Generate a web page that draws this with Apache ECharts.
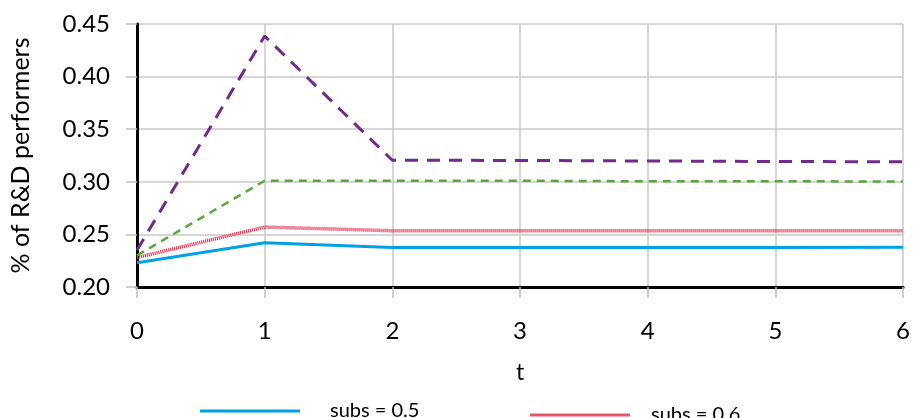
<!DOCTYPE html>
<html><head><meta charset="utf-8">
<script src="https://cdn.jsdelivr.net/npm/echarts@6/dist/echarts.min.js"></script>
<style>html,body{margin:0;padding:0;background:#fff}#c{width:913px;height:418px}</style>
</head><body><div id="c"></div>
<script>
const tValues = [0, 1, 2, 3, 4, 5, 6];
const subs05 = [0.223, 0.242, 0.2375, 0.2375, 0.2375, 0.2375, 0.2378];
const subs06 = [0.228, 0.257, 0.2535, 0.2535, 0.2535, 0.2535, 0.2535];
const subs07 = [0.230, 0.301, 0.301, 0.301, 0.3005, 0.3005, 0.3003];
const subs08 = [0.235, 0.4385, 0.3205, 0.3203, 0.3198, 0.3193, 0.319];
const seriesNames = ['subs = 0.5', 'subs = 0.6', 'subs = 0.7', 'subs = 0.8'];
const yTicks = ['0.20','0.25','0.30','0.35','0.40','0.45'];

const font = 'Lato';
const pairs = a => a.map((v, i) => [tValues[i], v]);
const chart = echarts.init(document.getElementById('c'));
const lg = (name, left, top, color, h, pad) => ({
  data: [{name: name, icon: 'rect', itemStyle: {color: color}}],
  left: left, top: top, padding: 0, itemWidth: 100, itemHeight: h, itemGap: 30,
  textStyle: {fontSize: 20, color: '#000', fontFamily: font, padding: [0, 0, 0, pad]}
});
chart.setOption({
  animation: false,
  textStyle: {fontFamily: font},
  grid: {left: 137, right: 8, top: 24, bottom: 131},
  xAxis: {
    type: 'value', min: 0, max: 6, interval: 1,
    name: 't', nameLocation: 'middle', nameGap: 74,
    nameTextStyle: {fontSize: 23, color: '#000', fontFamily: font},
    axisLine: {show: true, onZero: false, lineStyle: {color: '#000', width: 3}},
    axisTick: {show: true, length: 11, lineStyle: {color: '#bfbfbf', width: 1.5}},
    axisLabel: {fontSize: 24, color: '#000', margin: 32, fontFamily: font},
    splitLine: {show: true, lineStyle: {color: '#c8c8c8', width: 1.5}}
  },
  yAxis: {
    type: 'value', min: 0.2, max: 0.45, interval: 0.05,
    name: '% of R&D performers', nameLocation: 'middle', nameGap: 104,
    nameTextStyle: {fontSize: 25, color: '#000', fontFamily: font},
    axisLine: {show: true, onZero: false, lineStyle: {color: '#000', width: 3}},
    axisTick: {show: true, length: 11, lineStyle: {color: '#bfbfbf', width: 1.5}},
    axisLabel: {fontSize: 24, color: '#000', margin: 27, fontFamily: font,
      formatter: v => yTicks[Math.round((v - 0.2) / 0.05)]},
    splitLine: {show: true, lineStyle: {color: '#c8c8c8', width: 1.5}}
  },
  legend: [
    lg(seriesNames[0], 200, 401, '#00a2e3', 3, 25),
    lg(seriesNames[1], 530, 405, '#e4566c', 3, 16),
    lg(seriesNames[2], 200, 445, '#56a83a', 3, 25),
    lg(seriesNames[3], 530, 445, '#702a8c', 3, 16)
  ],
  series: [
    {name: seriesNames[0], type: 'line', data: pairs(subs05), symbol: 'none', z: 5,
     lineStyle: {color: '#00a2e3', width: 3}, itemStyle: {color: '#00a2e3'}},
    {name: seriesNames[1], type: 'line', data: pairs(subs06), symbol: 'none', z: 4,
     lineStyle: {color: '#e33b57', width: 3.5, type: [1.2, 0.8]}, itemStyle: {color: '#e33b57'}},
    {name: seriesNames[2], type: 'line', data: pairs(subs07), symbol: 'none', z: 3,
     lineStyle: {color: '#56a83a', width: 2.5, type: [8, 6]}, itemStyle: {color: '#56a83a'}},
    {name: seriesNames[3], type: 'line', data: pairs(subs08), symbol: 'none', z: 2,
     lineStyle: {color: '#702a8c', width: 3, type: [13, 9]}, itemStyle: {color: '#702a8c'}}
  ]
});
</script></body></html>
